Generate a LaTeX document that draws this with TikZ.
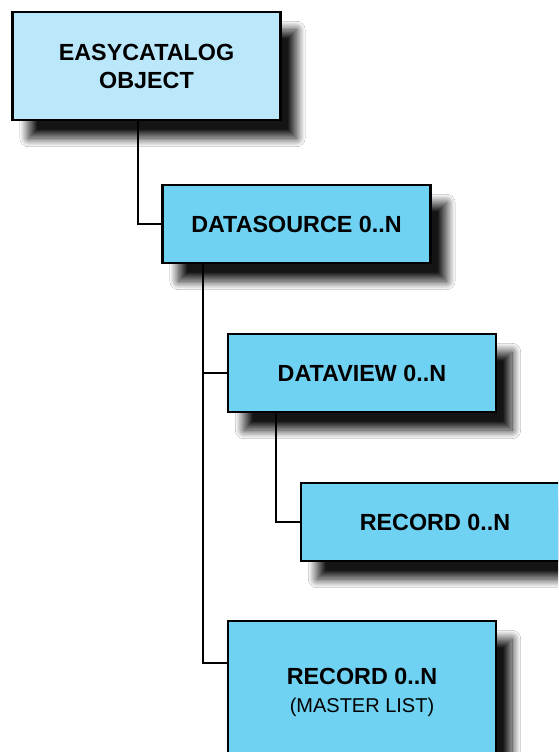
\documentclass[tikz,border=0pt]{standalone}
\usepackage{fontspec}
\setsansfont{Liberation Sans}
\usepackage{tikz}
\usetikzlibrary{shadows.blur}
\definecolor{azulclaro}{RGB}{186,232,250}
\definecolor{azul}{RGB}{112,210,242}
\tikzstyle{caja}=[draw=black,line width=2.2pt,fill=azul,minimum width=201pt,minimum height=58.5pt,align=center,font=\sffamily\bfseries\fontsize{17.5}{21}\selectfont,blur shadow={shadow xshift=12pt,shadow yshift=-13.5pt,shadow blur radius=6.5pt,shadow blur steps=30,shadow opacity=92}]
\tikzstyle{linea}=[line width=1.5pt]

\begin{document}
\begin{tikzpicture}[x=0.75pt,y=-0.75pt]
    \clip (0,0) rectangle (558,752);
    \fill [white] (0,0) rectangle (558,752);
    \node [caja,fill=azulclaro,minimum height=81pt] (objeto) at (146.5,66) {EASYCATALOG\\OBJECT};
    \node [caja] (fuente)  at (296.5,224) {DATASOURCE 0..N};
    \node [caja] (vista)   at (362,373) {DATAVIEW 0..N};
    \node [caja] (registro) at (435,522) {RECORD 0..N};
    \node [caja,minimum height=106.5pt] (maestra) at (362,692) {RECORD 0..N\\{\mdseries\fontsize{15}{20}\selectfont (MASTER LIST)}};
    \coordinate (p1) at (138,0);
    \coordinate (p2) at (203,0);
    \coordinate (p3) at (276,0);
    \draw [linea] (objeto.south -| p1) |- (fuente.west);
    \draw [linea] (fuente.south -| p2) |- (vista.west);
    \draw [linea] (fuente.south -| p2) |- ([yshift=21.75pt]maestra.west);
    \draw [linea] (vista.south -| p3) |- (registro.west);
\end{tikzpicture}
\end{document}
